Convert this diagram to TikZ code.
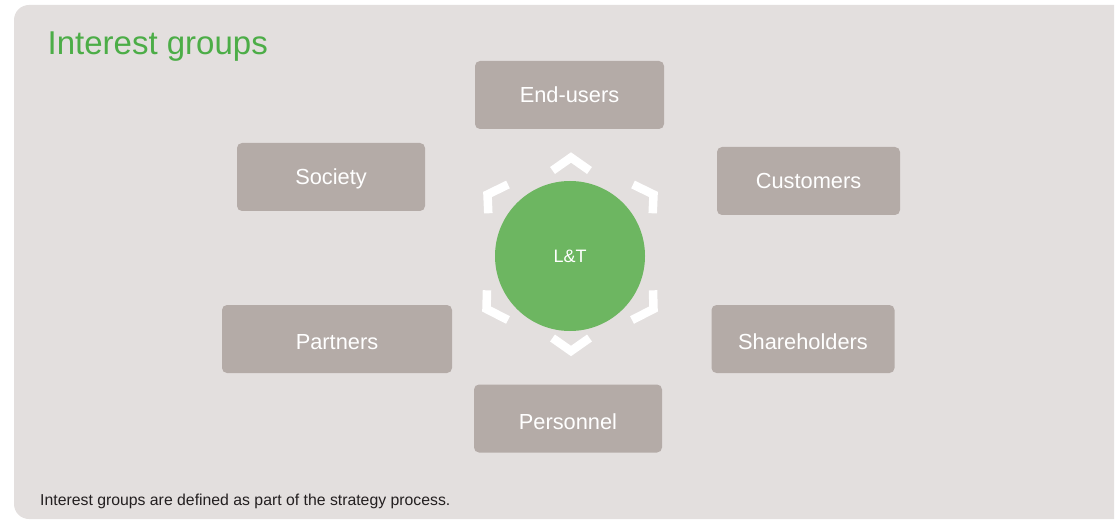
\documentclass[tikz,border=0pt]{standalone}
\usepackage{fontspec}
\setmainfont{Liberation Sans}
\usetikzlibrary{calc}

\definecolor{panelbg}{HTML}{E3DFDE}
\definecolor{groupbox}{HTML}{B4ABA7}
\definecolor{ltgreen}{HTML}{6DB661}
\definecolor{titlegreen}{HTML}{4CAD47}
\definecolor{notetext}{HTML}{231F20}

\tikzset{
  grp/.style={fill=groupbox, rounded corners=5pt, inner sep=0pt,
    text=white, font=\fontsize{21.8}{24}\selectfont,
    text height=15.5pt, text depth=0pt, minimum height=68pt},
  grplow/.style={grp, text height=21.5pt},
  core/.style={circle, fill=ltgreen, minimum size=150pt, inner sep=0pt,
    text=white, font=\fontsize{18}{20}\selectfont},
  cornermark/.style={draw=white, line width=8.5pt, line cap=butt, line join=miter}
}

\begin{document}
\begin{tikzpicture}[x=1pt,y=-1pt]
\useasboundingbox (0,0) rectangle (1115,521);

% background panel, rounded on the left side
\fill[panelbg] (1114,519) -- (1114,5) [rounded corners=15pt] -- (14,5) -- (14,519) [sharp corners] -- (1114,519) -- cycle;

% heading and note
\node[anchor=base west, inner sep=0pt, text=titlegreen, font=\fontsize{33}{36}\selectfont] (title) at (47.5,55) {Interest groups};
\node[anchor=base west, inner sep=0pt, text=notetext, font=\fontsize{15.8}{19}\selectfont] (note) at (40,505) {Interest groups are defined as part of the strategy process.};

% interest group boxes
\node[grp, minimum width=189pt] (eu) at (569.5,95) {End-users};
\node[grp, minimum width=188pt] (so) at (331,177) {Society};
\node[grp, minimum width=183pt] (cu) at (808.5,181) {Customers};
\node[grplow, minimum width=230pt] (pa) at (337,339) {Partners};
\node[grplow, minimum width=183pt] (sh) at (803,339) {Shareholders};
\node[grplow, minimum width=188pt] (pe) at (568,418.5) {Personnel};

% centre
\node[core] (lt) at (570,256) {L\&T};

% corner marks around the centre: vertex / first arm / second arm
\coordinate (hT)  at (571,157.5);
\coordinate (hTR) at (653.5,194.5);
\coordinate (hBR) at (653.5,309);
\coordinate (hB)  at (571,351);
\coordinate (hBL) at (486.5,309);
\coordinate (hTL) at (487.5,194.5);

\foreach \v/\ax/\ay/\bx/\by in {
    hT/-18.5/13/18.5/13,
    hB/-18.5/-13/18.5/-13,
    hTL/20.5/-10/0.8/18.8,
    hBL/0.5/-18.7/21.5/11,
    hTR/-20.5/-10/-0.8/18.8,
    hBR/-0.5/-18.7/-21.5/11}{
  \draw[cornermark] ($(\v)+(\ax,\ay)$) -- (\v) -- ($(\v)+(\bx,\by)$);
}
\end{tikzpicture}
\end{document}
